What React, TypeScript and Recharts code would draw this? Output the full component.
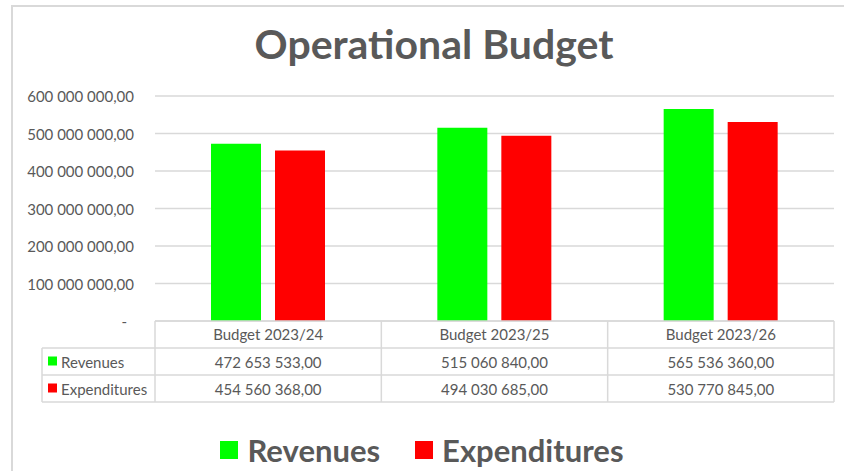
import React from 'react';
import { BarChart, Bar, XAxis, YAxis, CartesianGrid } from 'recharts';

const categories = ['Budget 2023/24', 'Budget 2023/25', 'Budget 2023/26'];
const revenues = [472653533, 515060840, 565536360];
const expenditures = [454560368, 494030685, 530770845];
const yTicks = [0, 100000000, 200000000, 300000000, 400000000, 500000000, 600000000];

const seriesList = [
  { key: 'revenues', name: 'Revenues', color: '#00ff00', values: revenues },
  { key: 'expenditures', name: 'Expenditures', color: '#ff0000', values: expenditures },
];

const data = categories.map((c, i) => ({
  name: c,
  revenues: revenues[i],
  expenditures: expenditures[i],
}));

const TEXT = '#595959';
const LINE = '#d9d9d9';
const FONT = 'Lato, "Open Sans", sans-serif';

// 472653533 -> "472 653 533,00"
const formatNumber = (v: number) => {
  const [int, dec] = v.toFixed(2).split('.');
  return int.replace(/\B(?=(\d{3})+(?!\d))/g, ' ') + ',' + dec;
};

const YTick = (props: any) => {
  const { x, y, payload } = props;
  const v = payload.value as number;
  return (
    <text
      x={v === 0 ? x - 7 : x}
      y={y}
      textAnchor='end'
      dominantBaseline='central'
      fill={TEXT}
      fontSize={15}
      fontFamily={FONT}
    >
      {v === 0 ? '-' : formatNumber(v)}
    </text>
  );
};

// plot area: x 155..834, y 96..321
const PLOT_LEFT = 155;
const PLOT_RIGHT = 834;
const PLOT_BOTTOM = 321;
const ROW_H = 27;
const LABEL_LEFT = 42;

function DataTable() {
  const colW = (PLOT_RIGHT - PLOT_LEFT) / categories.length;
  const rows = seriesList.length + 1;
  const lines: React.ReactNode[] = [];
  // horizontal lines
  lines.push(<line key='h0' x1={PLOT_LEFT} x2={PLOT_RIGHT} y1={PLOT_BOTTOM} y2={PLOT_BOTTOM} />);
  for (let r = 1; r <= rows; r++) {
    const y = PLOT_BOTTOM + r * ROW_H;
    lines.push(<line key={'h' + r} x1={LABEL_LEFT} x2={PLOT_RIGHT} y1={y} y2={y} />);
  }
  // vertical lines
  lines.push(
    <line key='vl' x1={LABEL_LEFT} x2={LABEL_LEFT} y1={PLOT_BOTTOM + ROW_H} y2={PLOT_BOTTOM + rows * ROW_H} />
  );
  for (let c = 0; c <= categories.length; c++) {
    const x = PLOT_LEFT + c * colW;
    lines.push(<line key={'v' + c} x1={x} x2={x} y1={PLOT_BOTTOM} y2={PLOT_BOTTOM + rows * ROW_H} />);
  }

  return (
    <svg
      width={844}
      height={471}
      style={{ position: 'absolute', left: 0, top: 0, pointerEvents: 'none' }}
    >
      <g stroke={LINE} strokeWidth={1.5}>{lines}</g>
      {seriesList.map((s, r) => {
        const cy = PLOT_BOTTOM + (r + 1) * ROW_H + ROW_H / 2;
        return (
          <g key={s.key} fontFamily={FONT} fontSize={15} fill={TEXT}>
            <rect x={48} y={cy - 5} width={9} height={9} fill={s.color} />
            <text x={61} y={cy} dominantBaseline='central'>
              {s.name}
            </text>
            {s.values.map((v, i) => (
              <text
                key={i}
                x={PLOT_LEFT + colW * (i + 0.5)}
                y={cy}
                textAnchor='middle'
                dominantBaseline='central'
              >
                {formatNumber(v)}
              </text>
            ))}
          </g>
        );
      })}
    </svg>
  );
}

export default function App() {
  return (
    <div
      style={{
        position: 'absolute',
        left: 0,
        top: 0,
        width: 844,
        height: 471,
        overflow: 'hidden',
        background: '#fff',
        fontFamily: FONT,
      }}
    >
      {/* chart frame */}
      <div
        style={{
          position: 'absolute',
          left: 11,
          top: 5,
          width: 850,
          height: 480,
          borderLeft: `2px solid ${LINE}`,
          borderTop: `2px solid ${LINE}`,
        }}
      />

      <div
        style={{
          position: 'absolute',
          left: 12,
          top: 19,
          width: 844,
          textAlign: 'center',
          fontSize: 41,
          fontWeight: 700,
          color: TEXT,
          lineHeight: '50px',
        }}
      >
        Operational Budget
      </div>

      <div style={{ position: 'absolute', left: 0, top: 0 }}>
        <BarChart
          width={844}
          height={471}
          data={data}
          margin={{ top: 96, right: 10, bottom: 120, left: 0 }}
          barSize={50}
          barGap={14}
        >
          <CartesianGrid vertical={false} stroke={LINE} strokeWidth={1.5} />
          <YAxis
            width={155}
            domain={[0, 600000000]}
            ticks={yTicks}
            axisLine={false}
            tickLine={false}
            tickSize={0}
            tickMargin={21}
            tick={<YTick />}
            interval={0}
          />
          <XAxis
            dataKey='name'
            height={30}
            axisLine={false}
            tickLine={false}
            tickSize={0}
            tickMargin={8}
            interval={0}
            tick={{ fill: TEXT, fontSize: 15, fontFamily: FONT }}
          />
          {seriesList.map((s) => (
            <Bar key={s.key} dataKey={s.key} name={s.name} fill={s.color} isAnimationActive={false} />
          ))}
        </BarChart>
      </div>

      <DataTable />

      {/* legend */}
      <div
        style={{
          position: 'absolute',
          left: 0,
          top: 433,
          width: 844,
          display: 'flex',
          justifyContent: 'center',
          alignItems: 'center',
          height: 34,
        }}
      >
        {seriesList.map((s, i) => (
          <div
            key={s.key}
            style={{ display: 'flex', alignItems: 'center', marginLeft: i === 0 ? 0 : 35 }}
          >
            <span style={{ width: 18, height: 18, background: s.color, display: 'inline-block' }} />
            <span
              style={{
                marginLeft: 9,
                fontSize: 31,
                fontWeight: 700,
                color: TEXT,
                lineHeight: '34px',
              }}
            >
              {s.name}
            </span>
          </div>
        ))}
      </div>
    </div>
  );
}
